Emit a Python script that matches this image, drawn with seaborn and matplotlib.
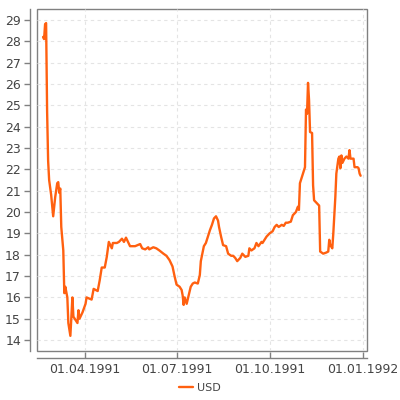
import pandas as pd
import matplotlib
matplotlib.use("Agg")
import matplotlib.pyplot as plt
import matplotlib.dates as mdates
import seaborn as sns

# USD rate, 1991
dates = [
    "1991-02-19", "1991-02-20", "1991-02-21", "1991-02-22", "1991-02-23", "1991-02-24",
    "1991-02-25", "1991-02-27", "1991-03-01", "1991-03-03", "1991-03-05", "1991-03-06",
    "1991-03-07", "1991-03-08", "1991-03-09", "1991-03-11", "1991-03-12", "1991-03-13",
    "1991-03-15", "1991-03-16", "1991-03-18", "1991-03-20", "1991-03-21", "1991-03-25",
    "1991-03-26", "1991-03-27", "1991-03-30", "1991-04-02", "1991-04-03", "1991-04-08",
    "1991-04-10", "1991-04-12", "1991-04-14", "1991-04-16", "1991-04-18", "1991-04-21",
    "1991-04-23", "1991-04-25", "1991-04-28", "1991-04-29", "1991-05-03", "1991-05-05",
    "1991-05-08", "1991-05-10", "1991-05-12", "1991-05-14", "1991-05-16", "1991-05-21",
    "1991-05-26", "1991-05-28", "1991-05-31", "1991-06-03", "1991-06-04", "1991-06-08",
    "1991-06-11", "1991-06-14", "1991-06-18", "1991-06-21", "1991-06-24", "1991-06-27",
    "1991-06-29", "1991-07-01", "1991-07-04", "1991-07-06", "1991-07-07", "1991-07-08",
    "1991-07-09", "1991-07-11", "1991-07-13", "1991-07-15", "1991-07-17", "1991-07-19",
    "1991-07-22", "1991-07-24", "1991-07-25", "1991-07-28", "1991-07-30", "1991-07-31",
    "1991-08-03", "1991-08-05", "1991-08-07", "1991-08-09", "1991-08-11", "1991-08-12",
    "1991-08-14", "1991-08-16", "1991-08-19", "1991-08-21", "1991-08-24", "1991-08-26",
    "1991-08-28", "1991-08-30", "1991-09-02", "1991-09-04", "1991-09-07", "1991-09-10",
    "1991-09-11", "1991-09-13", "1991-09-16", "1991-09-18", "1991-09-20", "1991-09-23",
    "1991-09-24", "1991-09-26", "1991-09-28", "1991-10-01", "1991-10-04", "1991-10-06",
    "1991-10-08", "1991-10-10", "1991-10-13", "1991-10-15", "1991-10-17", "1991-10-19",
    "1991-10-22", "1991-10-24", "1991-10-27", "1991-10-29", "1991-10-30", "1991-10-31",
    "1991-11-03", "1991-11-05", "1991-11-06", "1991-11-07", "1991-11-08", "1991-11-09",
    "1991-11-10", "1991-11-12", "1991-11-13", "1991-11-14", "1991-11-17", "1991-11-19",
    "1991-11-20", "1991-11-23", "1991-11-26", "1991-11-28", "1991-11-29", "1991-11-30",
    "1991-12-02", "1991-12-03", "1991-12-05", "1991-12-06", "1991-12-08", "1991-12-09",
    "1991-12-10", "1991-12-11", "1991-12-12", "1991-12-14", "1991-12-16", "1991-12-18",
    "1991-12-19", "1991-12-20", "1991-12-23", "1991-12-24", "1991-12-27", "1991-12-28",
    "1991-12-29", "1991-12-30",
]
usd = [
    28.2, 28.1, 28.8, 28.85, 24.7, 22.4,
    21.5, 20.8, 19.8, 20.7, 21.35, 21.4,
    20.9, 21.1, 19.3, 18.2, 16.2, 16.5,
    16.0, 14.8, 14.2, 16.0, 15.1, 14.8,
    15.4, 15.0, 15.3, 15.7, 16.0, 15.9,
    16.4, 16.35, 16.3, 16.8, 17.4, 17.4,
    17.9, 18.6, 18.3, 18.55, 18.55, 18.6,
    18.75, 18.6, 18.8, 18.6, 18.4, 18.4,
    18.5, 18.3, 18.25, 18.35, 18.25, 18.35,
    18.3, 18.2, 18.05, 17.95, 17.75, 17.45,
    17.0, 16.6, 16.5, 16.35, 16.1, 15.65,
    16.0, 15.7, 16.1, 16.5, 16.65, 16.7,
    16.65, 17.05, 17.7, 18.4, 18.55, 18.7,
    19.15, 19.4, 19.7, 19.8, 19.6, 19.3,
    18.85, 18.45, 18.4, 18.05, 17.95, 17.95,
    17.85, 17.7, 17.85, 18.05, 17.9, 17.95,
    18.3, 18.2, 18.3, 18.55, 18.4, 18.6,
    18.55, 18.7, 18.85, 19.0, 19.1, 19.3,
    19.4, 19.3, 19.4, 19.35, 19.5, 19.5,
    19.55, 19.85, 20.0, 20.25, 20.1, 21.35,
    21.8, 22.1, 24.8, 24.6, 26.05, 25.25,
    23.75, 23.7, 21.25, 20.55, 20.4, 20.3,
    18.15, 18.05, 18.1, 18.15, 18.7, 18.45,
    18.3, 19.0, 20.7, 21.8, 22.5, 22.6,
    22.05, 22.65, 22.3, 22.5, 22.6, 22.5,
    22.9, 22.5, 22.5, 22.1, 22.1, 22.05,
    21.8, 21.7,
]

y_ticks = list(range(14, 30))
x_ticks = ["1991-04-01", "1991-07-01", "1991-10-01", "1992-01-01"]

df = pd.DataFrame({"date": pd.to_datetime(dates), "USD": usd})

sns.set_style("white")
plt.rcParams["font.family"] = ["DejaVu Sans"]

fig = plt.figure(figsize=(4, 4), dpi=100)
ax = fig.add_axes([0.0925, 0.123, 0.8242, 0.854])

sns.lineplot(data=df, x="date", y="USD", ax=ax, color="#ff6010",
             linewidth=1.7, label="USD", legend=False)

ax.set_xlim(pd.Timestamp("1991-02-13"), pd.Timestamp("1992-01-05"))
ax.set_ylim(13.5, 29.5)
ax.set_yticks(y_ticks)
ax.set_xticks(pd.to_datetime(x_ticks))
ax.xaxis.set_major_formatter(mdates.DateFormatter("%d.%m.%Y"))
ax.set_xlabel("")
ax.set_ylabel("")

ax.grid(True, color="#e4e4e4", linestyle=(0, (3, 3)), linewidth=0.8)

# frame around plot area plus offset axis lines
ax.patch.set_edgecolor("#808080")
ax.patch.set_linewidth(1.0)
for side in ["top", "right"]:
    ax.spines[side].set_visible(False)
for side in ["left", "bottom"]:
    ax.spines[side].set_position(("outward", 5))
    ax.spines[side].set_color("#808080")
    ax.spines[side].set_linewidth(1.0)

ax.tick_params(axis="x", labelsize=9, labelcolor="#444444", color="#808080",
               length=4, width=1, direction="in", pad=4, bottom=True)
ax.tick_params(axis="y", labelsize=9, labelcolor="#444444", color="#808080",
               length=4, width=1, direction="out", pad=2.5, left=True)

handles, labels = ax.get_legend_handles_labels()
fig.legend(handles, labels, loc="center", bbox_to_anchor=(0.5, 0.03),
           frameon=False, fontsize=8, handlelength=1.2, handletextpad=0.4,
           labelcolor="#444444")

fig.savefig("out.png", dpi=100)
